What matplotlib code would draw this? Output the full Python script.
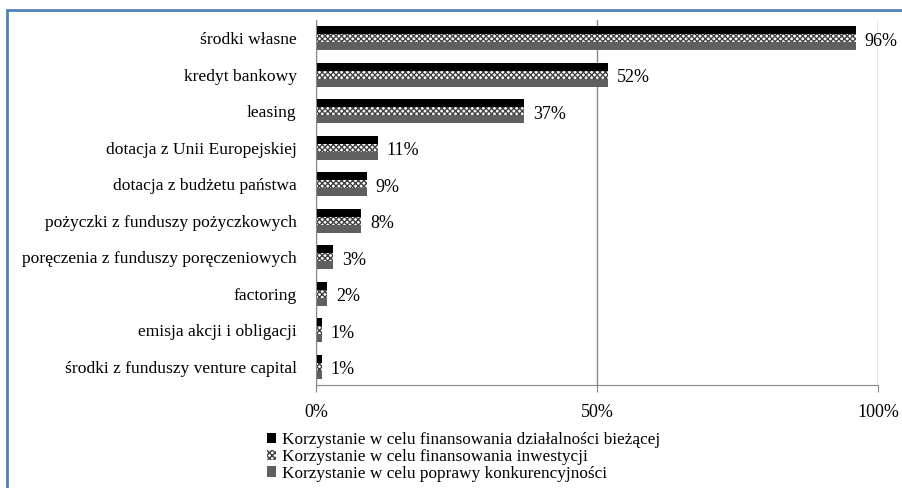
import numpy as np
import matplotlib.pyplot as plt
from matplotlib.patches import Rectangle, Patch

# data
categories = ['środki własne', 'kredyt bankowy', 'leasing', 'dotacja z Unii Europejskiej',
              'dotacja z budżetu państwa', 'pożyczki z funduszy pożyczkowych',
              'poręczenia z funduszy poręczeniowych', 'factoring', 'emisja akcji i obligacji',
              'środki z funduszy venture capital']
biezaca = [96, 52, 37, 11, 9, 8, 3, 2, 1, 1]
inwestycje = [96, 52, 37, 11, 9, 8, 3, 2, 1, 1]
konkurencyjnosc = [96, 52, 37, 11, 9, 8, 3, 2, 1, 1]
series_names = ['Korzystanie w celu finansowania działalności bieżącej',
                'Korzystanie w celu finansowania inwestycji',
                'Korzystanie w celu poprawy konkurencyjności']
xticks = [0, 50, 100]
xtick_labels = ['0%', '50%', '100%']

plt.rcParams['font.family'] = ['Liberation Serif', 'DejaVu Serif']
plt.rcParams['hatch.linewidth'] = 1.0

fig = plt.figure(figsize=(9.03, 4.88), dpi=100)
ax = fig.add_axes([316/903, 1-385/488, (878-316)/903, (385-20)/488])

y = np.arange(len(categories))
h = 0.22
ax.barh(y - h, biezaca, height=h, color='black', linewidth=0)
ax.barh(y, inwestycje, height=h, color='white', edgecolor='#404040', hatch='xxxxxx', linewidth=0)
ax.barh(y + h, konkurencyjnosc, height=h, color='#5f5f5f', linewidth=0)

for yi, v in zip(y, konkurencyjnosc):
    ax.annotate(f'{v}%', (v, yi), xytext=(6.5, -2), textcoords='offset points',
                va='center', ha='left', fontsize=13)

ax.set_xlim(0, 100)
ax.set_ylim(len(categories) - 0.5, -0.5)
ax.set_xticks(xticks)
ax.set_xticklabels(xtick_labels, fontsize=13)
ax.set_yticks(y)
ax.set_yticklabels(categories, fontsize=12.6)
ax.tick_params(axis='y', length=0, pad=14)
ax.tick_params(axis='x', length=5, color='#888888', pad=9)
ax.grid(axis='x', color='#888888', linewidth=1)
ax.set_axisbelow(True)
for s in ['top', 'right']:
    ax.spines[s].set_visible(False)
for s in ['left', 'bottom']:
    ax.spines[s].set_color('#888888')

handles = [Patch(facecolor='black', edgecolor='none'),
           Patch(facecolor='white', edgecolor='#404040', hatch='xxxxxx', linewidth=0),
           Patch(facecolor='#5f5f5f', edgecolor='none')]
fig.legend(handles, series_names, loc='upper left', bbox_to_anchor=(267/903, 1-432/488),
           frameon=False, fontsize=12.4, handlelength=0.55, handleheight=0.55,
           handletextpad=0.35, labelspacing=0.05, borderpad=0, borderaxespad=0)

# blue outer frame (cropped on right/bottom)
fig.patches.append(Rectangle((7/903, -0.1), 1.2, 1 - 10/488 + 0.1, transform=fig.transFigure,
                             fill=False, edgecolor='#4f81bd', linewidth=2))

fig.savefig('out.png', dpi=100)
